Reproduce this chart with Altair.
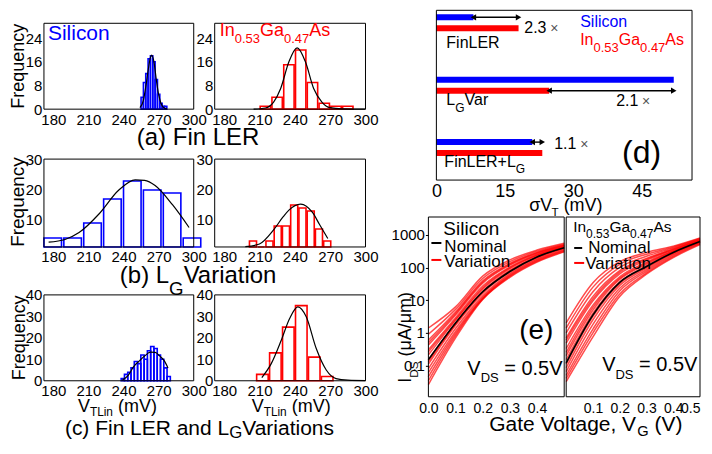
import altair as alt
import pandas as pd

FONT = "Liberation Sans"
BLUE = "#0000ff"
RED = "#ff0000"

# ---------------- data ----------------
HIST_X_TICKS = [180, 210, 240, 270, 300]

# (a) Fin LER
A_SI_STARTS = [255, 257, 259, 261, 263, 265, 267, 269, 271, 273, 275]
A_SI_COUNTS = [4, 9, 12, 17, 18, 16, 10, 5, 2, 1, 1]
A_SI_BINW = 2
A_SI_FIT_X = [254, 257, 259, 261, 263, 264, 266, 268, 270, 272, 274, 277]
A_SI_FIT_Y = [0.5, 3, 7.5, 13, 17.5, 18.3, 16, 10, 5, 2, 0.6, 0.1]

A_IN_STARTS = [210, 220, 230, 240, 250, 260, 270, 280]
A_IN_COUNTS = [1, 4, 15, 20, 9, 2, 1, 1]
A_IN_BINW = 10
A_IN_FIT_X = [205, 215, 222, 228, 235, 242, 249, 256, 263, 270, 280, 300]
A_IN_FIT_Y = [0, 0.4, 2.4, 7, 16, 20.7, 16, 7, 2.4, 0.5, 0.1, 0]

# (b) LG variation
B_SI_STARTS = [171, 188, 205, 222, 239, 256, 273, 290]
B_SI_COUNTS = [4, 4, 9, 17, 23, 20, 19, 4]
B_SI_BINW = 17
B_SI_FIT_X = [176, 190, 202, 219, 236, 250, 258, 267, 282, 296]
B_SI_FIT_Y = [2.6, 3.5, 5.8, 12, 20, 23.4, 23.2, 21.5, 15, 7.5]

B_IN_STARTS = [201, 208, 215, 222, 229, 236, 243, 250, 257, 264]
B_IN_COUNTS = [3, 1, 3, 8, 8, 15, 14, 13, 7, 3]
B_IN_BINW = 7
B_IN_FIT_X = [198, 210, 222, 230, 235, 245, 255, 261, 268]
B_IN_FIT_Y = [1.1, 2, 6.7, 11, 13.3, 15.3, 12.5, 8.5, 3.8]

# (c) Fin LER and LG variations
C_SI_STARTS = [238.0, 240.8, 243.6, 246.4, 249.2, 252.0, 254.8, 257.6,
               260.4, 263.2, 266.0, 268.8, 271.6, 274.4, 277.2]
C_SI_COUNTS = [1, 3, 4, 6, 9, 8, 12, 10, 14, 16, 15, 12, 10, 6, 2]
C_SI_BINW = 2.8
C_SI_FIT_X = [239, 244, 248.5, 254, 258, 263, 267, 271, 274.5, 278]
C_SI_FIT_Y = [0.3, 2.5, 6.5, 9.5, 11.5, 13.3, 13.2, 11.5, 9.6, 6]

C_IN_STARTS = [207, 218, 229, 240, 251, 262]
C_IN_COUNTS = [3, 13, 25, 35, 11, 2]
C_IN_BINW = 11
C_IN_FIT_X = [212, 220, 228.5, 235.6, 242.6, 249.7, 258.2, 266.7, 275, 285, 300]
C_IN_FIT_Y = [1.5, 8, 18.9, 29, 34.4, 29.8, 15, 5, 1, 0.3, 0.1]

# (d) sigma VT
D_MECH = ["FinLER", "LGVar", "FinLER+LG"]
D_MATS = ["Silicon", "InGaAs"]
D_SI = [8.1, 52.0, 21.0]
D_IN = [18.0, 24.7, 23.2]
D_ARROW_ROW = ["Silicon", "InGaAs", "Silicon"]

# (e) Id-Vg
VG = [0.0, 0.1, 0.2, 0.3, 0.4, 0.5]
E_SI_NOM = [0.15, 2.0, 18, 75, 210, 400]
E_SI_VAR = [
    [1.4, 6.2, 54, 170, 340, 550],
    [0.9, 5.2, 46, 150, 315, 515],
    [0.6, 4.3, 39, 133, 290, 485],
    [0.5, 3.9, 36, 125, 280, 472],
    [0.42, 3.5, 33, 118, 268, 460],
    [0.3, 2.9, 27, 104, 248, 440],
    [0.26, 2.6, 24, 98, 238, 430],
    [0.21, 2.4, 22, 92, 230, 420],
    [0.15, 2.0, 19, 82, 215, 405],
    [0.13, 1.85, 17.5, 78, 207, 397],
    [0.11, 1.7, 16, 74, 200, 390],
    [0.08, 1.35, 13.5, 66, 185, 370],
    [0.06, 1.1, 12, 60, 172, 350],
    [0.045, 0.95, 11.2, 56, 162, 330],
    [0.034, 0.82, 10.8, 53, 154, 315],
    [0.026, 0.7, 10.5, 50, 146, 300],
]
E_IN_NOM = [0.12, 3.5, 35, 107, 287, 620]
E_IN_VAR = [
    [2.0, 34, 150, 290, 450, 800],
    [1.4, 25, 125, 255, 420, 770],
    [1.0, 18, 100, 220, 395, 740],
    [0.7, 13, 80, 190, 370, 710],
    [0.6, 11, 72, 178, 358, 697],
    [0.48, 9.5, 64, 165, 345, 685],
    [0.33, 7, 52, 145, 325, 660],
    [0.25, 6, 47, 135, 315, 650],
    [0.2, 5, 43, 125, 305, 640],
    [0.15, 4, 36, 112, 292, 625],
    [0.11, 3.2, 32, 102, 280, 612],
    [0.085, 2.5, 28, 95, 270, 600],
    [0.065, 1.8, 23, 85, 250, 575],
    [0.05, 1.3, 19, 76, 232, 550],
    [0.04, 1.0, 15.5, 68, 215, 525],
    [0.032, 0.75, 13, 62, 200, 500],
]
E_Y_TICKS = [0.1, 1, 10, 100, 1000]

# ---------------- geometry (page pixels) ----------------
OFF = 8          # page margin: local = page - OFF
W, H = 690, 430  # one plot area covering the whole figure

PANELS = {
    "A1": (44, 194, 23, 109), "A2": (215, 366, 23, 109),
    "B1": (44, 194, 159, 247), "B2": (215, 366, 159, 247),
    "C1": (44, 194, 295, 381), "C2": (215, 366, 295, 381),
    "D": (437, 693, 10, 180),
    "E1": (429, 565, 217, 397), "E2": (567, 701, 217, 397),
}

# ---------------- helpers ----------------
DUMMY = pd.DataFrame({"d": [0]})

CW = {" ": 278, "(": 333, ")": 333, ".": 278, ",": 278, "/": 278, "=": 584, "+": 584,
      "×": 584, "σ": 571, "μ": 556,
      "A": 667, "E": 667, "F": 611, "G": 778, "I": 278, "L": 556, "N": 722, "R": 722,
      "S": 667, "T": 611, "V": 667, "D": 722,
      "a": 556, "b": 556, "c": 500, "d": 556, "e": 556, "g": 556, "i": 222, "l": 222,
      "m": 833, "n": 556, "o": 556, "q": 556, "r": 333, "s": 500, "t": 278, "u": 556,
      "y": 500}


def L(v):
    return v - OFF


def tw(s, size):
    return sum(CW.get(ch, 556) for ch in s) / 1000.0 * size


def txt(text, x, y, size, color="black", angle=0, align="left", baseline="alphabetic"):
    mk = dict(text=text, fontSize=size, color=color, font=FONT, align=align,
              baseline=baseline)
    if angle:
        mk["angle"] = angle
    return alt.Chart(DUMMY).mark_text(**mk).encode(x=alt.value(L(x)), y=alt.value(L(y)))


def rich(parts, x, y, size, color="black", angle=0, sub=0.65, shift=0.33):
    out = []
    pos = 0.0
    for t, k in parts:
        fs = size if k == "n" else size * sub
        dy = 0 if k == "n" else size * shift
        lead = len(t) - len(t.lstrip(" "))
        pos += lead * 0.278 * fs
        t2 = t.strip(" ")
        if angle == 270:
            px, py = x + dy, y - pos
        else:
            px, py = x + pos, y + dy
        out.append(txt(t2, px, py, fs, color, angle))
        pos += tw(t2, fs)
    return out


def hline(x1, x2, y, color, width=2.0):
    return alt.Chart(DUMMY).mark_rule(color=color, strokeWidth=width).encode(
        x=alt.value(L(x1)), x2=alt.value(L(x2)), y=alt.value(L(y)))


def frame(name):
    x0, x1, y0, y1 = PANELS[name]
    return alt.Chart(DUMMY).mark_rect(fillOpacity=0, stroke="black", strokeWidth=1).encode(
        x=alt.value(L(x0)), x2=alt.value(L(x1)), y=alt.value(L(y0)), y2=alt.value(L(y1)))


def xaxis_kw(name, flush=False):
    return dict(orient="bottom", offset=L(PANELS[name][3]) - H, title=None, grid=False,
                domain=False, labelFlush=flush, labelOverlap=False, labelColor="black",
                labelFont=FONT)


def yaxis_kw(name):
    return dict(orient="left", offset=-L(PANELS[name][0]), title=None, grid=False,
                domain=False, labelFlush=False, labelOverlap=False, labelColor="black",
                labelFont=FONT)


def hist_panel(name, starts, counts, binw, inset, fx, fy, color, ydom, yvals):
    x0, x1, y0, y1 = PANELS[name]
    xs = alt.Scale(domain=[172, 300], range=[L(x0), L(x1)], nice=False, zero=False)
    ys = alt.Scale(domain=ydom, range=[L(y1), L(y0)], nice=False, zero=False)
    xax = alt.Axis(values=HIST_X_TICKS, ticks=False, labelFontSize=15, labelPadding=3,
                   **xaxis_kw(name))
    yax = alt.Axis(values=yvals, ticks=False, labelFontSize=15, labelPadding=2,
                   **yaxis_kw(name))
    hdf = pd.DataFrame({"start": starts, "count": counts})
    bars = alt.Chart(hdf).transform_calculate(
        x0=f"datum.start + {inset}", x1=f"datum.start + {binw} - {inset}",
        base=str(ydom[0])
    ).mark_bar(fill="white", fillOpacity=0, stroke=color, strokeWidth=1.6).encode(
        x=alt.X("x0:Q", scale=xs, axis=xax), x2="x1:Q",
        y=alt.Y("count:Q", scale=ys, axis=yax), y2="base:Q")
    fdf = pd.DataFrame({"x0": fx, "count": fy})
    fit = alt.Chart(fdf).mark_line(color="black", strokeWidth=1.2,
                                   interpolate="monotone").encode(
        x=alt.X("x0:Q", scale=xs, axis=xax), y=alt.Y("count:Q", scale=ys, axis=yax))
    return alt.layer(bars, fit)


def ingaas(x, y, size, sub_size, color):
    return rich([("In", "n"), ("0.53", "s"), ("Ga", "n"), ("0.47", "s"), ("As", "n")],
                x, y, size, color, sub=sub_size / size, shift=0.4)


# ---------------- histogram panels ----------------
A1 = hist_panel("A1", A_SI_STARTS, A_SI_COUNTS, A_SI_BINW, 0, A_SI_FIT_X, A_SI_FIT_Y,
                BLUE, [0, 29], [0, 8, 16, 24])
A2 = hist_panel("A2", A_IN_STARTS, A_IN_COUNTS, A_IN_BINW, 0.6, A_IN_FIT_X, A_IN_FIT_Y,
                RED, [0, 29], [0, 8, 16, 24])
B1 = hist_panel("B1", B_SI_STARTS, B_SI_COUNTS, B_SI_BINW, 1, B_SI_FIT_X, B_SI_FIT_Y,
                BLUE, [1, 30.3], [10, 20, 30])
B2 = hist_panel("B2", B_IN_STARTS, B_IN_COUNTS, B_IN_BINW, 0.5, B_IN_FIT_X, B_IN_FIT_Y,
                RED, [1, 30.3], [10, 20, 30])
C1 = hist_panel("C1", C_SI_STARTS, C_SI_COUNTS, C_SI_BINW, 0, C_SI_FIT_X, C_SI_FIT_Y,
                BLUE, [0, 40], [0, 10, 20, 30, 40])
C2 = hist_panel("C2", C_IN_STARTS, C_IN_COUNTS, C_IN_BINW, 0.6, C_IN_FIT_X, C_IN_FIT_Y,
                RED, [0, 40], [0, 10, 20, 30, 40])

hist_texts = [
    txt("Silicon", 48, 40, 21, BLUE),
    txt("Frequency", 24, 66, 18, "black", angle=270, align="center"),
    txt("(a) Fin LER", 137, 145, 24),
] + ingaas(220, 36, 18, 13, RED) + [
    txt("Frequency", 24, 202, 19, "black", angle=270, align="center"),
] + rich([("(b) L", "n"), ("G", "s"), ("Variation", "n")], 120, 283, 24, sub=0.78,
         shift=0.5) + [
    txt("Frequency", 25, 338, 18, "black", angle=270, align="center"),
] + rich([("V", "n"), ("TLin", "s"), (" (mV)", "n")], 78, 412, 18, sub=0.66, shift=0.24) \
  + rich([("V", "n"), ("TLin", "s"), (" (mV)", "n")], 252, 412, 18, sub=0.66, shift=0.24) \
  + rich([("(c) Fin LER and L", "n"), ("G", "s"), ("Variations", "n")], 65, 435, 21,
         sub=0.8, shift=0.18)

# ---------------- (d) ----------------
dx0, dx1, dy0, dy1 = PANELS["D"]
ddf = pd.DataFrame({"mech": D_MECH * 2, "mat": ["Silicon"] * 3 + ["InGaAs"] * 3,
                    "sigma": D_SI + D_IN})
adf = pd.DataFrame({"mech": D_MECH, "row": D_ARROW_ROW,
                    "lo": [min(a, b) for a, b in zip(D_SI, D_IN)],
                    "hi": [max(a, b) for a, b in zip(D_SI, D_IN)]})
dxs = alt.Scale(domain=[0, 56], range=[L(dx0), L(dx1)], nice=False, zero=False)
dys = alt.Scale(domain=D_MECH, range=[L(dy0) - 18.75, L(dy0) + 168.75],
                paddingInner=0, paddingOuter=0)
dos = alt.Scale(domain=D_MATS, range=[22.75, 39.75], paddingInner=0.4545, paddingOuter=0)
dxax = alt.Axis(values=[0, 15, 30, 45], ticks=False, labelFontSize=18, labelPadding=2,
                **xaxis_kw("D"))
dy_enc = alt.Y("mech:N", scale=dys, axis=None, sort=D_MECH)
d_bars = alt.Chart(ddf).mark_bar().encode(
    x=alt.X("sigma:Q", scale=dxs, axis=dxax), y=dy_enc,
    yOffset=alt.YOffset("mat:N", scale=dos, sort=D_MATS),
    color=alt.Color("mat:N", scale=alt.Scale(domain=D_MATS, range=[BLUE, RED]),
                    legend=None))
d_shaft = alt.Chart(adf).mark_bar(color="black", height=1.4).encode(
    x=alt.X("lo:Q", scale=dxs, axis=dxax), x2="hi:Q", y=dy_enc,
    yOffset=alt.YOffset("row:N", scale=dos, sort=D_MATS))
d_head_l = alt.Chart(adf).mark_point(shape="triangle-left", filled=True, color="black",
                                     size=40, opacity=1).encode(
    x=alt.X("lo:Q", scale=dxs, axis=dxax), y=dy_enc,
    yOffset=alt.YOffset("row:N", scale=dos, sort=D_MATS))
d_head_r = alt.Chart(adf).mark_point(shape="triangle-right", filled=True, color="black",
                                     size=40, opacity=1).encode(
    x=alt.X("hi:Q", scale=dxs, axis=dxax), y=dy_enc,
    yOffset=alt.YOffset("row:N", scale=dos, sort=D_MATS))
D = alt.layer(d_bars, d_shaft, d_head_l, d_head_r)

d_texts = [txt("Silicon", 581, 27, 16, BLUE)] + ingaas(581, 45, 16, 13, RED) + [
    txt("FinLER", 447, 48, 16)] + \
    rich([("L", "n"), ("G", "s"), ("Var", "n")], 447, 105, 16, sub=0.75, shift=0.4) + \
    rich([("FinLER+L", "n"), ("G", "s")], 445, 167, 16, sub=0.75, shift=0.4) + [
    txt("2.3", 525, 33, 16), txt("×", 551, 33, 14, "#555555"),
    txt("2.1", 617, 106, 16), txt("×", 643, 106, 14, "#555555"),
    txt("1.1", 555, 149, 16), txt("×", 581, 149, 14, "#555555"),
    txt("(d)", 623, 163, 32)] + \
    rich([("σV", "n"), ("T", "s"), (" (mV)", "n")], 530, 211, 18, sub=0.65, shift=0.28)


# ---------------- (e) ----------------
def curves_df(var):
    rows = []
    for k, curve in enumerate(var):
        for v, i in zip(VG, curve):
            rows.append({"vg": v, "ids": i, "curve": k})
    return pd.DataFrame(rows)


def iv_panel(name, nom, var, xvals, show_y, flush):
    x0, x1, y0, y1 = PANELS[name]
    xs = alt.Scale(domain=[0, 0.5], range=[L(x0), L(x1)], nice=False, zero=False)
    ys = alt.Scale(type="log", domain=[0.011, 3500], range=[L(y1), L(y0)], nice=False)
    xax = alt.Axis(values=xvals, format=".1f", ticks=False, labelFontSize=14,
                   labelPadding=5, **xaxis_kw(name, flush))
    if show_y:
        yax = alt.Axis(values=E_Y_TICKS, format="~g", ticks=True, tickSize=3,
                       tickColor="black", labelFontSize=15, labelPadding=1,
                       **yaxis_kw(name))
    else:
        yax = None
    var_l = alt.Chart(curves_df(var)).mark_line(
        color=RED, opacity=0.7, strokeWidth=1.5, interpolate="monotone"
    ).encode(x=alt.X("vg:Q", scale=xs, axis=xax),
             y=alt.Y("ids:Q", scale=ys, axis=yax), detail="curve:N")
    nom_l = alt.Chart(pd.DataFrame({"vg": VG, "ids": nom})).mark_line(
        color="black", strokeWidth=1.6, interpolate="monotone"
    ).encode(x=alt.X("vg:Q", scale=xs, axis=xax), y=alt.Y("ids:Q", scale=ys, axis=yax))
    return alt.layer(var_l, nom_l)


E1 = iv_panel("E1", E_SI_NOM, E_SI_VAR, [0, 0.1, 0.2, 0.3, 0.4], True, False)
E2 = iv_panel("E2", E_IN_NOM, E_IN_VAR, [0.1, 0.2, 0.3, 0.4, 0.5], False, True)

e_texts = [txt("Silicon", 444, 235, 19),
           hline(432, 442, 243, "black"), txt("Nominal", 445, 252, 17),
           hline(432, 442, 260, RED), txt("Variation", 445, 267, 17),
           txt("(e)", 520, 339, 28)] + \
    rich([("V", "n"), ("DS", "s"), (" = 0.5V", "n")], 468, 375, 20, sub=0.65, shift=0.35) + \
    rich([("I", "n"), ("DS", "s"), (" (μA/μm)", "n")], 412, 383, 18, angle=270, sub=0.65,
         shift=0.35) + \
    rich([("Gate Voltage, V", "n"), ("G", "s"), (" (V)", "n")], 490, 431, 21, sub=0.7,
         shift=0.27) + \
    ingaas(574, 232, 15.5, 12, "black") + [
    hline(575, 583, 248, "black"), txt("Nominal", 589, 253, 17),
    hline(575, 585, 263, RED), txt("Variation", 586, 269, 17)] + \
    rich([("V", "n"), ("DS", "s"), (" = 0.5V", "n")], 603, 371, 20, sub=0.65, shift=0.4)

frames = [frame(n) for n in PANELS]

chart = alt.layer(
    A1, A2, B1, B2, C1, C2, D, E1, E2, *frames, *hist_texts, *d_texts, *e_texts
).resolve_scale(
    x="independent", y="independent"
).properties(
    width=W, height=H, padding=0
).configure(font=FONT).configure_view(stroke="transparent")

chart.save("out.html", embed_options={"renderer": "svg", "actions": False})
